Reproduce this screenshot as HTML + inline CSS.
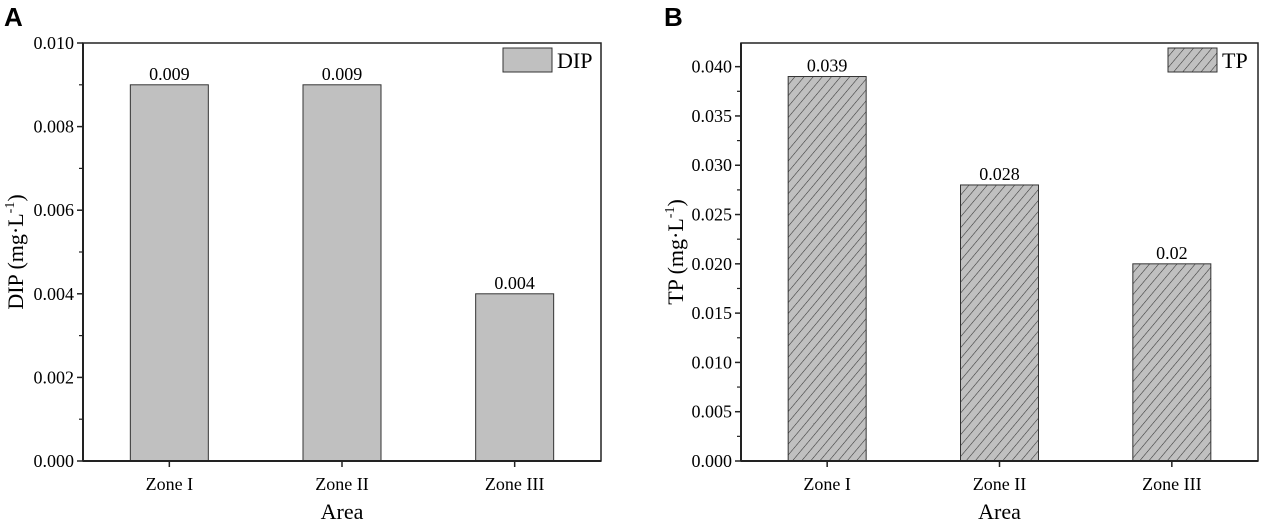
<!DOCTYPE html>
<html><head><meta charset="utf-8"><style>
body{margin:0;background:#fff;}
svg{display:block;font-family:"Liberation Serif",serif;}
</style></head><body>
<svg id="c" width="1261" height="523" xmlns="http://www.w3.org/2000/svg">
<defs>
<pattern id="hatch" patternUnits="userSpaceOnUse" width="7" height="7" patternTransform="rotate(40)">
<rect width="7" height="7" fill="#c0c0c0"/>
<line x1="0" y1="0" x2="0" y2="7" stroke="#333" stroke-width="1.1"/>
</pattern>
</defs>
<text x="4" y="26" font-family="Liberation Sans,sans-serif" font-weight="bold" font-size="26">A</text>
<text x="664" y="26" font-family="Liberation Sans,sans-serif" font-weight="bold" font-size="26">B</text>
</svg>
<script>
const categories = ["Zone I","Zone II","Zone III"];
const dipValues = [0.009,0.009,0.004];
const tpValues = [0.039,0.028,0.020];
const dipLabels = ["0.009","0.009","0.004"];
const tpLabels = ["0.039","0.028","0.02"];
const dipTicks = [0,0.002,0.004,0.006,0.008,0.010];
const tpTicks = [0,0.005,0.010,0.015,0.020,0.025,0.030,0.035,0.040];

const svg = document.getElementById('c');
const NS = 'http://www.w3.org/2000/svg';
function mk(tag, attrs, parent){const e=document.createElementNS(NS,tag);for(const k in attrs)e.setAttribute(k,attrs[k]);(parent||svg).appendChild(e);return e;}

function panel(o){
  const g = mk('g',{});
  
  
  const y = v => o.bottom - (v - 0) / o.max * (o.bottom - o.top);
  const band = (o.right - o.left) / o.cats.length;
  const x = i => o.left + band * (i + 0.5);
  o.vals.forEach((v,i)=>{
    const w = 78;
    const r = mk('rect',{x:x(i)-w/2,y:y(v),width:w,height:o.bottom-y(v),fill:o.fill,stroke:'#333','stroke-width':1},g);
    
    
    const t = mk('text',{x:x(i),y:y(v)-5,'text-anchor':'middle','font-size':18},g);
    t.textContent = o.labels[i];
    
    
  });
  const f = mk('rect',{x:o.left,y:o.top,width:o.right-o.left,height:o.bottom-o.top,fill:'none',stroke:'#222','stroke-width':1.5},g);
  
  
  mk('line',{x1:o.left,y1:o.top,x2:o.left,y2:o.bottom,stroke:'#222','stroke-width':2},g);
  mk('line',{x1:o.left,y1:o.bottom,x2:o.right,y2:o.bottom,stroke:'#222','stroke-width':2},g);
  o.ticks.forEach((v,i)=>{
    mk('line',{x1:o.left-6,y1:y(v),x2:o.left,y2:y(v),stroke:'#222','stroke-width':1.5},g);
    const t = mk('text',{x:o.left-9,y:y(v)+6,'text-anchor':'end','font-size':18},g);
    t.textContent = v.toFixed(3);
    
    
    if(i < o.ticks.length-1){
      const m = (v + o.ticks[i+1]) / 2;
      mk('line',{x1:o.left-4,y1:y(m),x2:o.left,y2:y(m),stroke:'#222','stroke-width':1.2},g);
    }
  });
  o.cats.forEach((c,i)=>{
    mk('line',{x1:x(i),y1:o.bottom,x2:x(i),y2:o.bottom+6,stroke:'#222','stroke-width':1.5},g);
    const t = mk('text',{x:x(i),y:o.bottom+29,'text-anchor':'middle','font-size':18},g);
    t.textContent = c;
    
    
  });
  const xt = mk('text',{x:(o.left+o.right)/2,y:519,'text-anchor':'middle','font-size':22},g);
  xt.textContent = 'Area';
  
  
  const yt = mk('text',{x:0,y:0,'text-anchor':'middle','font-size':22,transform:`translate(${o.ytx},${(o.top+o.bottom)/2}) rotate(-90)`},g);
  yt.innerHTML = o.ytitle + ' (mg·L<tspan dy="-9" font-size="14">-1</tspan><tspan dy="9">)</tspan>';
  
  
  const lr = mk('rect',{x:o.legX,y:48,width:49,height:24,fill:o.fill,stroke:'#333','stroke-width':1},g);
  
  
  const lt = mk('text',{x:o.legX+54,y:68,'font-size':22},g);
  lt.textContent = o.ytitle;
  
  
}
panel({name:'panel-a-dip',left:83,right:601,top:43,bottom:461,max:0.010,cats:categories,vals:dipValues,labels:dipLabels,ticks:dipTicks,fill:'#c0c0c0',ytitle:'DIP',ytx:23,legX:503});
panel({name:'panel-b-tp',left:741,right:1258,top:43,bottom:461,max:0.0424,cats:categories,vals:tpValues,labels:tpLabels,ticks:tpTicks,fill:'url(#hatch)',ytitle:'TP',ytx:683,legX:1168});
</script>
</body></html>
